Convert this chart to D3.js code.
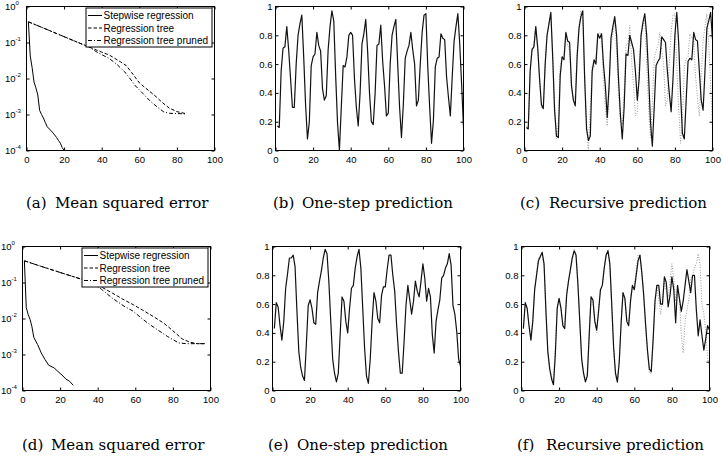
<!DOCTYPE html>
<html>
<head>
<meta charset="utf-8">
<script src="https://cdn.jsdelivr.net/npm/d3@7"></script>
<style>
  body { margin: 0; background: #fff; }
  svg { display: block; }
</style>
</head>
<body>
<div id="fig"></div>
<script>
"use strict";

// Axis ticks shared by all panels.
const xTicks = [0, 20, 40, 60, 80, 100];
const linTicks = [0, 0.2, 0.4, 0.6, 0.8, 1];
const logTicks = [1e-4, 1e-3, 1e-2, 1e-1, 1];
const logExponents = ["-4", "-3", "-2", "-1", "0"];

const legendLabels = ["Stepwise regression", "Regression tree", "Regression tree pruned"];
const captionLabels = ["(a)", "(b)", "(c)", "(d)", "(e)", "(f)"];
const captionTexts = ["Mean squared error", "One-step prediction", "Recursive prediction",
                      "Mean squared error", "One-step prediction", "Recursive prediction"];

// Mean squared error curves, top row (a).
const stepwiseTopX = [1, 2, 3, 4, 5, 6, 7, 8, 9, 10, 11, 12, 13, 14, 15, 16, 17, 18, 19, 20, 21];
const stepwiseTopY = [0.375, 0.042, 0.02, 0.008, 0.0055, 0.0035, 0.0013, 0.001, 0.0008, 0.0006, 0.00046,
                      0.0004, 0.00036, 0.00031, 0.00027, 0.00023, 0.00019, 0.00016, 0.00012, 0.0001, 0.00008];
const treeTopX = [1, 10, 20, 30, 33, 40, 44, 50, 53, 56, 60, 65, 69, 72, 76, 80, 85];
const treeTopY = [0.375, 0.24, 0.145, 0.088, 0.076, 0.054, 0.045, 0.029, 0.023, 0.0145, 0.0076, 0.0046,
                  0.0031, 0.0022, 0.0015, 0.0012, 0.00105];
const prunedTopX = [1, 10, 20, 30, 33, 38, 44, 48, 53, 58, 62, 66, 70, 73, 76, 80, 85];
const prunedTopY = [0.375, 0.24, 0.145, 0.088, 0.076, 0.052, 0.036, 0.025, 0.0138, 0.0062, 0.0038, 0.0023,
                    0.00155, 0.00118, 0.00108, 0.00106, 0.00104];

// Mean squared error curves, bottom row (d).
const stepwiseBotX = [1, 2, 3, 4, 5, 6, 8, 10, 12, 14, 17, 19, 21, 23, 25, 27];
const stepwiseBotY = [0.4, 0.02, 0.013, 0.0095, 0.006, 0.003, 0.0019, 0.0011, 0.00072, 0.0005, 0.00042,
                      0.00033, 0.00027, 0.00021, 0.00018, 0.00014];
const treeBotX = [1, 10, 20, 30, 36, 42, 48, 54, 59, 64, 70, 75, 78, 82, 85, 89, 93, 97];
const treeBotY = [0.4, 0.28, 0.19, 0.13, 0.105, 0.075, 0.05, 0.033, 0.024, 0.017, 0.011, 0.0075, 0.0056,
                  0.0037, 0.0027, 0.0022, 0.002, 0.002];
const prunedBotX = [1, 10, 20, 30, 36, 42, 48, 54, 59, 64, 68, 72, 77, 80, 83, 87, 92, 97];
const prunedBotY = [0.4, 0.28, 0.19, 0.13, 0.105, 0.065, 0.036, 0.022, 0.0158, 0.0095, 0.0066, 0.0048,
                    0.0032, 0.0026, 0.0021, 0.002, 0.002, 0.002];

// Observed series / one-step predictions, x = 1..100.
const seriesTop = [
  0.17, 0.16, 0.55, 0.71, 0.72, 0.86, 0.70, 0.50, 0.30, 0.30,
  0.60, 0.80, 0.88, 0.94, 0.65, 0.32, 0.08, 0.20, 0.59, 0.65,
  0.67, 0.82, 0.73, 0.69, 0.43, 0.35, 0.38, 0.70, 0.86, 0.97,
  0.90, 0.52, 0.19, 0.00, 0.30, 0.59, 0.58, 0.65, 0.80, 0.82,
  0.80, 0.50, 0.30, 0.17, 0.40, 0.74, 0.81, 0.91, 0.69, 0.40,
  0.20, 0.18, 0.40, 0.73, 0.74, 0.87, 0.62, 0.45, 0.24, 0.26,
  0.60, 0.80, 0.86, 0.91, 0.60, 0.30, 0.09, 0.32, 0.64, 0.69,
  0.73, 0.82, 0.70, 0.60, 0.31, 0.35, 0.60, 0.82, 0.94, 0.95,
  0.58, 0.30, 0.05, 0.21, 0.58, 0.64, 0.65, 0.81, 0.78, 0.77,
  0.51, 0.37, 0.24, 0.51, 0.76, 0.86, 0.95, 0.74, 0.46, 0.16
];
const recursiveTop = [
  0.16, 0.15, 0.55, 0.70, 0.72, 0.86, 0.72, 0.50, 0.32, 0.29,
  0.60, 0.80, 0.88, 0.96, 0.65, 0.28, 0.10, 0.09, 0.52, 0.65,
  0.63, 0.82, 0.76, 0.75, 0.45, 0.35, 0.31, 0.65, 0.85, 0.93,
  0.97, 0.50, 0.15, 0.07, 0.10, 0.55, 0.63, 0.60, 0.81, 0.78,
  0.81, 0.60, 0.45, 0.23, 0.45, 0.78, 0.86, 0.93, 0.80, 0.50,
  0.25, 0.08, 0.30, 0.67, 0.66, 0.80, 0.75, 0.70, 0.55, 0.35,
  0.50, 0.80, 0.89, 0.95, 0.80, 0.52, 0.20, 0.03, 0.30, 0.59,
  0.62, 0.64, 0.79, 0.77, 0.75, 0.55, 0.40, 0.27, 0.50, 0.80,
  0.96, 0.75, 0.40, 0.12, 0.08, 0.35, 0.62, 0.64, 0.63, 0.82,
  0.77, 0.76, 0.55, 0.35, 0.28, 0.55, 0.85, 0.90, 0.96, 0.77
];
const seriesBot = [
  0.43, 0.61, 0.58, 0.45, 0.35, 0.48, 0.71, 0.81, 0.92, 0.92,
  0.94, 0.86, 0.55, 0.27, 0.16, 0.10, 0.07, 0.32, 0.59, 0.63,
  0.57, 0.47, 0.46, 0.68, 0.76, 0.83, 0.92, 0.98, 0.95, 0.75,
  0.48, 0.22, 0.12, 0.06, 0.12, 0.39, 0.65, 0.62, 0.48, 0.40,
  0.57, 0.71, 0.73, 0.85, 0.93, 0.98, 0.85, 0.57, 0.29, 0.10,
  0.05, 0.22, 0.48, 0.68, 0.62, 0.50, 0.47, 0.66, 0.72, 0.72,
  0.84, 0.94, 0.94, 0.80, 0.69, 0.46, 0.27, 0.12, 0.12, 0.34,
  0.59, 0.73, 0.63, 0.53, 0.62, 0.76, 0.69, 0.65, 0.76, 0.88,
  0.78, 0.62, 0.71, 0.65, 0.39, 0.26, 0.48, 0.56, 0.63, 0.78,
  0.80, 0.85, 0.88, 0.95, 0.87, 0.59, 0.53, 0.41, 0.22, 0.17
];
const recursiveBot = [
  0.43, 0.61, 0.57, 0.45, 0.35, 0.48, 0.70, 0.80, 0.90, 0.93,
  0.96, 0.88, 0.55, 0.27, 0.15, 0.08, 0.04, 0.25, 0.57, 0.64,
  0.57, 0.45, 0.43, 0.66, 0.76, 0.84, 0.92, 0.97, 0.94, 0.74,
  0.48, 0.22, 0.12, 0.06, 0.10, 0.38, 0.65, 0.63, 0.48, 0.42,
  0.55, 0.70, 0.73, 0.85, 0.94, 0.97, 0.88, 0.60, 0.30, 0.12,
  0.06, 0.20, 0.47, 0.68, 0.64, 0.48, 0.45, 0.62, 0.73, 0.70,
  0.80, 0.90, 0.94, 0.82, 0.66, 0.46, 0.28, 0.15, 0.13, 0.35,
  0.62, 0.73, 0.73, 0.60, 0.60, 0.79, 0.75, 0.58, 0.66, 0.79,
  0.70, 0.47, 0.73, 0.64, 0.55, 0.62, 0.73, 0.84, 0.76, 0.68,
  0.80, 0.80, 0.56, 0.38, 0.49, 0.38, 0.28, 0.36, 0.45, 0.42
];

const steps = d3.range(1, 101);

// Line looks, matched to the MATLAB defaults in the figure.
const styles = {
  solid: { stroke: "#000", width: 1, dash: null },
  dashed: { stroke: "#000", width: 1, dash: "3.5,2" },
  dashdot: { stroke: "#000", width: 1, dash: "4,2,1,2" },
  series: { stroke: "#111", width: 1.2, dash: null },
  actual: { stroke: "#999", width: 1, dash: "1,1.6" }
};

const mseTop = [
  { x: stepwiseTopX, y: stepwiseTopY, style: "solid" },
  { x: treeTopX, y: treeTopY, style: "dashed" },
  { x: prunedTopX, y: prunedTopY, style: "dashdot" }
];
const mseBot = [
  { x: stepwiseBotX, y: stepwiseBotY, style: "solid" },
  { x: treeBotX, y: treeBotY, style: "dashed" },
  { x: prunedBotX, y: prunedBotY, style: "dashdot" }
];

const plotW = 188, plotH = 144;

const panels = [
  { id: "a", left: 26.5, top: 6.5, log: true, series: mseTop, legend: true },
  { id: "b", left: 275.5, top: 6.5, series: [{ x: steps, y: seriesTop, style: "series" }] },
  { id: "c", left: 524.5, top: 6.5, series: [{ x: steps, y: seriesTop, style: "actual" },
                                               { x: steps, y: recursiveTop, style: "series" }] },
  { id: "d", left: 22.5, top: 246.5, log: true, series: mseBot, legend: true },
  { id: "e", left: 272.5, top: 246.5, series: [{ x: steps, y: seriesBot, style: "series" }] },
  { id: "f", left: 521.5, top: 246.5, series: [{ x: steps, y: seriesBot, style: "actual" },
                                                { x: steps, y: recursiveBot, style: "series" }] }
];

// Caption positions: label start x, baseline y.
const captionPos = [[26, 208], [273, 208], [520, 208], [22, 449.5], [268, 449.5], [517, 449.5]];

const tickFont = "'Liberation Sans', Arial, Helvetica, sans-serif";

const svg = d3.select("#fig")
  .append("svg")
  .attr("width", 722)
  .attr("height", 457);

svg.append("rect").attr("width", 722).attr("height", 457).attr("fill", "#fff");

function styleAxis(sel) {
  sel.select(".domain").remove();
  sel.attr("font-family", tickFont).attr("font-size", 9.5);
  sel.selectAll(".tick line").attr("stroke", "#000");
  sel.selectAll(".tick text").attr("fill", "#000");
}

function drawPanel(p) {
  let g = svg.append("g").attr("transform", `translate(${p.left},${p.top})`);

  let x = d3.scaleLinear().domain([0, 100]).range([0, plotW]);
  let y = p.log
    ? d3.scaleLog().domain([1e-4, 1]).range([plotH, 0])
    : d3.scaleLinear().domain([0, 1]).range([plotH, 0]);

  g.append("clipPath").attr("id", "clip-" + p.id)
    .append("rect").attr("width", plotW).attr("height", plotH);

  let plot = g.append("g").attr("clip-path", `url(#clip-${p.id})`);
  let line = d3.line().x(d => x(d[0])).y(d => y(d[1]));

  p.series.forEach(s => {
    let st = styles[s.style];
    plot.append("path")
      .datum(d3.zip(s.x, s.y))
      .attr("d", line)
      .attr("fill", "none")
      .attr("stroke", st.stroke)
      .attr("stroke-width", st.width)
      .attr("stroke-dasharray", st.dash)
      .attr("stroke-linejoin", "round");
  });

  // Ticks point inward on all four sides.
  g.append("g")
    .attr("transform", `translate(0,${plotH})`)
    .call(d3.axisBottom(x).tickValues(xTicks).tickSize(-3).tickPadding(5.5).tickFormat(d3.format("d")))
    .call(styleAxis);
  g.append("g")
    .call(d3.axisTop(x).tickValues(xTicks).tickSize(-3).tickFormat(""))
    .call(styleAxis);

  let yTicks = p.log ? logTicks : linTicks;
  g.append("g")
    .call(d3.axisLeft(y).tickValues(yTicks).tickSize(-3).tickPadding(3)
      .tickFormat(p.log ? "" : (d => String(d))))
    .call(styleAxis);
  g.append("g")
    .attr("transform", `translate(${plotW},0)`)
    .call(d3.axisRight(y).tickValues(yTicks).tickSize(-3).tickFormat(""))
    .call(styleAxis);

  if (p.log) {
    // "10" with a raised exponent, like MATLAB's log labels.
    let labels = g.append("g").attr("font-family", tickFont).attr("fill", "#000");
    logTicks.forEach((t, i) => {
      labels.append("text")
        .attr("x", -11)
        .attr("y", y(t) + 3.5)
        .attr("text-anchor", "end")
        .attr("font-size", 9.5)
        .text("10");
      labels.append("text")
        .attr("x", -11)
        .attr("y", y(t) - 1.5)
        .attr("font-size", 6)
        .text(logExponents[i]);
    });
  }

  g.append("rect")
    .attr("width", plotW)
    .attr("height", plotH)
    .attr("fill", "none")
    .attr("stroke", "#000")
    .attr("stroke-width", 1);

  if (p.legend) drawLegend(g);
}

function drawLegend(g) {
  let boxX = plotW - 128.5, boxY = 1.5, boxW = 126, boxH = 39;
  let lg = g.append("g").attr("transform", `translate(${boxX},${boxY})`);
  lg.append("rect")
    .attr("width", boxW)
    .attr("height", boxH)
    .attr("fill", "#fff")
    .attr("stroke", "#000")
    .attr("stroke-width", 1);
  ["solid", "dashed", "dashdot"].forEach((s, i) => {
    let rowY = 7.5 + i * 12.5;
    let st = styles[s];
    lg.append("line")
      .attr("x1", 2).attr("x2", 16)
      .attr("y1", rowY).attr("y2", rowY)
      .attr("stroke", st.stroke)
      .attr("stroke-width", st.width)
      .attr("stroke-dasharray", st.dash);
    lg.append("text")
      .attr("x", 17.5)
      .attr("y", rowY)
      .attr("dy", "0.35em")
      .attr("font-family", tickFont)
      .attr("font-size", 10)
      .text(legendLabels[i]);
  });
}

panels.forEach(drawPanel);

// Sub-figure captions.
let caps = svg.append("g")
  .attr("font-family", "'DejaVu Serif', 'Liberation Serif', serif")
  .attr("font-size", 15)
  .attr("fill", "#000");

captionPos.forEach((pos, i) => {
  caps.append("text").attr("x", pos[0]).attr("y", pos[1]).text(captionLabels[i]);
  caps.append("text").attr("x", pos[0] + 29).attr("y", pos[1]).text(captionTexts[i]);
});
</script>
</body>
</html>
